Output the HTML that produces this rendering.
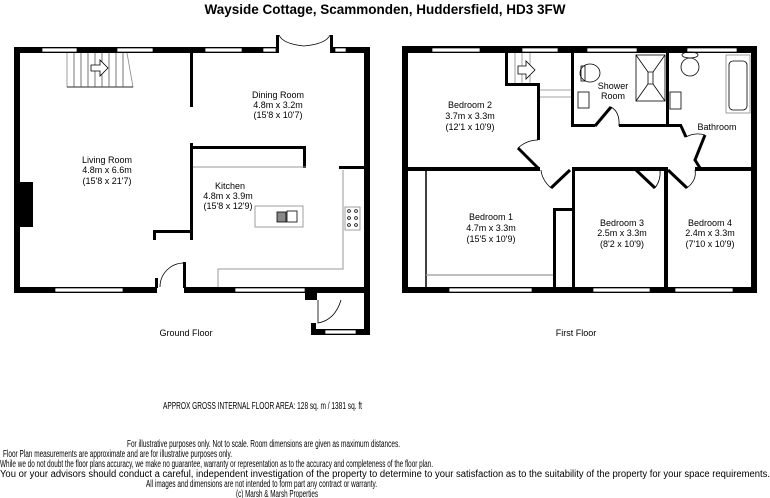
<!DOCTYPE html>
<html><head><meta charset="utf-8"><style>
html,body{margin:0;padding:0;background:#fff;}
svg{display:block;font-family:"Liberation Sans",sans-serif;}
</style></head><body>
<svg width="770" height="498" viewBox="0 0 770 498" xmlns="http://www.w3.org/2000/svg">
<text x="385" y="14" font-size="13.5" font-weight="bold" text-anchor="middle">Wayside Cottage, Scammonden, Huddersfield, HD3 3FW</text>

<!-- GROUND FLOOR -->
<g fill="#000">
<rect x="14" y="47" width="264" height="6"/>
<rect x="331" y="47" width="39" height="6"/>
<rect x="14" y="47" width="6" height="246"/>
<rect x="364" y="47" width="6" height="288"/>
<rect x="14" y="287" width="143" height="6"/>
<rect x="184" y="287" width="186" height="6"/>
<rect x="20" y="182" width="13" height="45"/>
<rect x="190" y="53" width="3" height="54"/>
<rect x="190" y="143" width="3" height="97"/>
<rect x="153" y="230" width="38" height="3"/>
<rect x="153" y="230" width="3" height="10"/>
<rect x="191" y="146" width="115" height="3"/>
<rect x="303" y="146" width="3" height="22"/>
<rect x="339" y="166" width="31" height="3"/>
<rect x="155" y="278" width="3" height="10"/>
<rect x="183" y="262" width="3" height="26"/>
<rect x="305" y="287" width="12" height="13"/>
<rect x="311" y="323" width="5" height="12"/>
<rect x="311" y="329" width="59" height="6"/>
<rect x="276" y="35" width="3" height="18"/>
<rect x="330" y="35" width="3" height="18"/>
</g>
<g fill="#fff" stroke="#000" stroke-width="0.7">
<rect x="42" y="48" width="35" height="4"/>
<rect x="117" y="48" width="36" height="4"/>
<rect x="205" y="48" width="37" height="4"/>
<rect x="263" y="48" width="13" height="4"/>
<rect x="335" y="48" width="11" height="4"/>
<rect x="55" y="288" width="68" height="4"/>
<rect x="235" y="288" width="70" height="4"/>
<rect x="325" y="330" width="31" height="4"/>
</g>
<g fill="none" stroke="#000" stroke-width="0.8">
<path d="M279 35 Q283 44 304 46 M330 35 Q326 44 304 46"/>
<path d="M160 287 A 24 24 0 0 1 184 263"/>
<path d="M318 300 L318 323 Q335 320 341 300"/>
<rect x="345" y="207" width="15" height="23" stroke="#888"/>
<circle cx="349" cy="211" r="1.4"/><circle cx="356" cy="211" r="1.4"/>
<circle cx="349" cy="218" r="1.4"/><circle cx="356" cy="218" r="1.4"/>
<circle cx="349" cy="225" r="1.4"/><circle cx="356" cy="225" r="1.4"/>
<rect x="255" y="206" width="48" height="21" stroke="#888"/>
<rect x="277" y="212" width="9" height="10" fill="#888"/>
<rect x="287" y="211" width="10" height="11"/>
<path d="M67 53 V87 H133 L127 53" stroke="#888"/>
<path d="M67 87 H133"/>
<path d="M74 53V87M81 53V87M88 53V87M95 53V87M102 53V87M109 53V87M116 53V87M123 53V87" stroke="#555"/>
<path d="M91 65 H100 V60 L108 68 L100 76 V71 H91 Z" fill="#fff"/>
</g>
<g fill="none" stroke="#999" stroke-width="1">
<path d="M193 167 H306"/>
<path d="M343 170 V269 H218 V287"/>
</g>

<!-- FIRST FLOOR -->
<g fill="#000">
<rect x="402" y="46" width="355" height="7"/>
<rect x="402" y="46" width="6" height="247"/>
<rect x="751" y="46" width="6" height="247"/>
<rect x="402" y="287" width="355" height="6"/>
<rect x="408" y="167" width="132" height="4"/>
<rect x="572" y="167" width="92" height="4"/>
<rect x="695" y="167" width="56" height="4"/>
<rect x="572" y="167" width="3" height="126"/>
<rect x="664" y="167" width="4" height="126"/>
<rect x="505" y="53" width="3" height="32"/>
<rect x="505" y="83" width="35" height="3"/>
<rect x="537" y="83" width="3" height="57"/>
<rect x="571" y="53" width="3" height="74"/>
<rect x="571" y="124" width="24" height="3"/>
<rect x="619" y="124" width="50" height="3"/>
<rect x="666" y="53" width="3" height="74"/>
<rect x="666" y="124" width="16" height="3"/>
<rect x="553" y="208" width="3" height="80"/>
<rect x="553" y="208" width="22" height="3"/>
</g>
<g fill="#fff" stroke="#000" stroke-width="0.7">
<rect x="432" y="48" width="48" height="4"/>
<rect x="522" y="48" width="36" height="4"/>
<rect x="587" y="48" width="50" height="4"/>
<rect x="687" y="48" width="50" height="4"/>
<rect x="449" y="288" width="83" height="4"/>
<rect x="593" y="288" width="57" height="4"/>
<rect x="675" y="288" width="58" height="4"/>
</g>
<g fill="none" stroke="#000" stroke-width="3">
<path d="M595 126 L611 107"/>
<path d="M681 126 L686 137"/>
<path d="M705 135 L695 160 L700 168"/>
<path d="M538 168 L518 148"/>
<path d="M570 170 L551 188"/>
<path d="M636 170 L655 188"/>
<path d="M668 170 L687 188"/>
</g>
<g fill="none" stroke="#000" stroke-width="0.8">
<path d="M611 107 Q620 112 619 126"/>
<path d="M686 137 Q695 132 705 135"/>
<path d="M518 148 Q527 140 538 140"/>
<path d="M551 188 Q542 180 541 170"/>
<path d="M655 188 Q661 180 660 170"/>
<path d="M687 188 Q697 180 695 170"/>
<path d="M515 53V83M522 53V83M530 53V83" stroke="#888"/>
<path d="M518 66 H526 V61 L535 70 L526 79 V74 H518 Z" fill="#fff"/>
<path d="M540 90 H571 M540 97 H571" stroke="#888"/>
<ellipse cx="590" cy="73" rx="10" ry="9"/>
<rect x="581" y="66" width="4" height="15"/>
<rect x="578" y="92" width="11" height="16"/>
<rect x="636" y="55" width="29" height="46"/>
<path d="M636 55 L648 72 L648 84 L636 101 M665 55 L653 72 L653 84 L665 101 M648 72H653 M648 84H653"/>
<ellipse cx="690" cy="67" rx="9" ry="9"/>
<ellipse cx="690" cy="55" rx="8" ry="3"/>
<rect x="670" y="92" width="11" height="17"/>
<rect x="726" y="55" width="24" height="58" stroke="#888"/>
<rect x="729" y="61" width="18" height="49" rx="4"/>
<path d="M426 171 V287" stroke-width="1.5"/>
<path d="M426 275 H553" stroke="#999" stroke-width="1.2"/>
</g>

<g font-size="9" text-anchor="middle" fill="#000">
<text x="278" y="98">Dining Room</text><text x="278" y="108">4.8m x 3.2m</text><text x="278" y="118">(15'8 x 10'7)</text>
<text x="107" y="163">Living Room</text><text x="107" y="173">4.8m x 6.6m</text><text x="107" y="184">(15'8 x 21'7)</text>
<text x="230" y="189">Kitchen</text><text x="228" y="199">4.8m x 3.9m</text><text x="228" y="209">(15'8 x 12'9)</text>
<text x="186" y="336">Ground Floor</text>
<text x="470" y="108">Bedroom 2</text><text x="470" y="119">3.7m x 3.3m</text><text x="470" y="130">(12'1 x 10'9)</text>
<text x="613" y="89">Shower</text><text x="613" y="99">Room</text>
<text x="717" y="130">Bathroom</text>
<text x="491" y="220">Bedroom 1</text><text x="491" y="231">4.7m x 3.3m</text><text x="491" y="242">(15'5 x 10'9)</text>
<text x="622" y="226">Bedroom 3</text><text x="622" y="236">2.5m x 3.3m</text><text x="622" y="247">(8'2 x 10'9)</text>
<text x="710" y="226">Bedroom 4</text><text x="710" y="236">2.4m x 3.3m</text><text x="710" y="247">(7'10 x 10'9)</text>
<text x="576" y="336">First Floor</text>
</g>
<g font-size="10" fill="#000">
<text x="163" y="409" textLength="199" lengthAdjust="spacingAndGlyphs">APPROX GROSS INTERNAL FLOOR AREA:  128 sq. m  / 1381 sq. ft</text>
<text x="127" y="447" textLength="273" lengthAdjust="spacingAndGlyphs">For illustrative purposes only.  Not to scale.  Room dimensions are given as maximum distances.</text>
<text x="3" y="457" textLength="229" lengthAdjust="spacingAndGlyphs">Floor Plan measurements are approximate and are for illustrative purposes only.</text>
<text x="0" y="467" textLength="433" lengthAdjust="spacingAndGlyphs">While we do not doubt the floor plans accuracy, we make no guarantee, warranty or representation as to the accuracy and completeness of the floor plan.</text>
<text x="0" y="477" textLength="770" lengthAdjust="spacingAndGlyphs">You or your advisors should conduct a careful, independent investigation of the property to determine to your satisfaction as to the suitability of the property for your space requirements.</text>
<text x="146" y="487" textLength="231" lengthAdjust="spacingAndGlyphs">All images and dimensions are not intended to form part any contract or warranty.</text>
<text x="236" y="497" textLength="82" lengthAdjust="spacingAndGlyphs">(c) Marsh &amp; Marsh Properties</text>
</g>
</svg>
</body></html>
